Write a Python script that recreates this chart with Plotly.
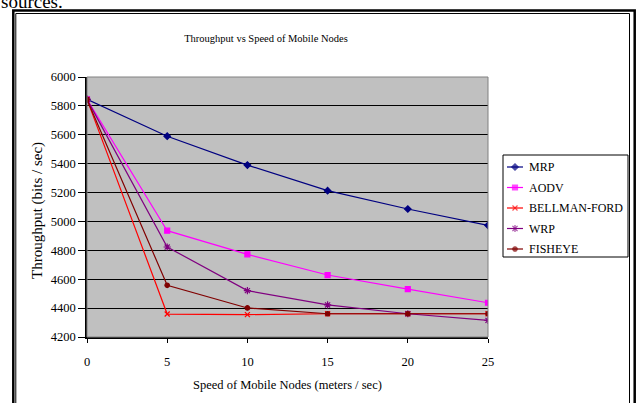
import plotly.graph_objects as go

speeds = [0, 5, 10, 15, 20, 25]
mrp = [5845, 5590, 5390, 5213, 5086, 4973]
aodv = [5845, 4936, 4772, 4629, 4532, 4437]
bellman = [5845, 4359, 4355, 4361, 4361, 4361]
wrp = [5845, 4823, 4521, 4422, 4361, 4315]
fisheye = [5845, 4558, 4401, 4361, 4361, 4361]

series_names = ["MRP", "AODV", "BELLMAN-FORD", "WRP", "FISHEYE"]
series_values = [mrp, aodv, bellman, wrp, fisheye]
colors = ["#000080", "#FF00FF", "#FF0000", "#800080", "#800000"]
symbols = ["diamond", "square", "x-thin-open", "asterisk-open", "circle"]
msizes = [5, 5, 5, 6, 4.5]

y_ticks = [4200, 4400, 4600, 4800, 5000, 5200, 5400, 5600, 5800, 6000]
x_ticks = [0, 5, 10, 15, 20, 25]

W, H = 638, 403
L, R, T, B = 87, 488, 77, 337          # plot area in pixels
LG_L, LG_R, LG_T, LG_B = 503, 628, 155, 257  # legend box in pixels
FONT = "Liberation Serif, Times New Roman, serif"


def px(x):
    return x / W


def py(y):
    return 1 - y / H


fig = go.Figure()
for name, vals, c, s, ms in zip(series_names, series_values, colors, symbols, msizes):
    fig.add_trace(go.Scatter(
        x=speeds, y=vals, name=name, mode="lines+markers", showlegend=False,
        line=dict(color=c, width=1.2),
        marker=dict(symbol=s, size=ms, color=c, line=dict(color=c, width=1.2)),
    ))

# custom legend drawn on an overlay axis (units: pixels inside the legend box)
annotations = []
for i, (name, c, s, ms) in enumerate(zip(series_names, colors, symbols, msizes)):
    row = 12 + 20.5 * i
    fig.add_trace(go.Scatter(
        x=[4, 12, 20], y=[row, row, row], mode="lines+markers", showlegend=False,
        xaxis="x2", yaxis="y2", hoverinfo="skip",
        line=dict(color=c, width=1.2),
        marker=dict(symbol=s, size=[0, ms, 0], color=c, line=dict(color=c, width=1.2)),
    ))
    annotations.append(dict(text=name, xref="x2", yref="y2", x=24, y=row, xanchor="left",
                            yanchor="middle", showarrow=False,
                            font=dict(family=FONT, size=12, color="black")))

shapes = [
    dict(type="rect", xref="paper", yref="paper", x0=px(L), x1=px(R), y0=py(B), y1=py(T),
         line=dict(color="#808080", width=1), layer="above"),
    dict(type="rect", xref="paper", yref="paper", x0=px(LG_L), x1=px(LG_R), y0=py(LG_B), y1=py(LG_T),
         line=dict(color="black", width=1), fillcolor="white", layer="below"),
    dict(type="rect", xref="paper", yref="paper", x0=px(13.3), x1=px(634.7), y0=py(410), y1=py(10.5),
         line=dict(color="black", width=2.5)),
    dict(type="rect", xref="paper", yref="paper", x0=px(15.8), x1=px(629.5), y0=py(410), y1=py(13.5),
         line=dict(color="black", width=1)),
]

annotations += [
    dict(text="sources.", xref="paper", yref="paper", x=px(-1), y=py(14.5), xanchor="left", yanchor="bottom",
         showarrow=False, font=dict(family=FONT, size=19, color="black")),
    dict(text="Speed of Mobile Nodes (meters / sec)", xref="paper", yref="paper", x=px(287), y=py(385),
         xanchor="center", yanchor="middle", showarrow=False, font=dict(family=FONT, size=12.5, color="black")),
    dict(text="Throughput (bits / sec)", xref="paper", yref="paper", x=px(38), y=py(211),
         xanchor="center", yanchor="middle", textangle=-90, showarrow=False,
         font=dict(family=FONT, size=15, color="black")),
]

fig.update_layout(
    width=W, height=H,
    margin=dict(l=0, r=0, t=0, b=0, autoexpand=False),
    paper_bgcolor="white", plot_bgcolor="#C0C0C0",
    font=dict(family=FONT, size=12, color="black"),
    title=dict(text="Throughput vs Speed of Mobile Nodes", xref="container", yref="container",
               x=266 / W, y=1 - 38 / H, xanchor="center", yanchor="middle",
               font=dict(family=FONT, size=10.5, color="black")),
    shapes=shapes, annotations=annotations,
    xaxis=dict(domain=[px(L), px(R)], range=[0, 25], tickvals=x_ticks, ticks="outside", ticklen=4,
               tickcolor="black", showline=True, linecolor="black", linewidth=1.5, showgrid=False,
               zeroline=False, ticklabelstandoff=8, tickfont=dict(family=FONT, size=12.5)),
    yaxis=dict(domain=[py(B), py(T)], range=[4200, 6000], tickvals=y_ticks, ticks="outside", ticklen=7,
               tickcolor="black", showline=True, linecolor="black", linewidth=1.5, showgrid=True,
               gridcolor="black", gridwidth=1, zeroline=False, tickfont=dict(family=FONT, size=12.5)),
    xaxis2=dict(domain=[px(LG_L), px(LG_R)], range=[0, LG_R - LG_L], visible=False, fixedrange=True,
                anchor="y2"),
    yaxis2=dict(domain=[py(LG_B), py(LG_T)], range=[LG_B - LG_T, 0], visible=False, fixedrange=True,
                anchor="x2"),
)

fig.write_html("out.html")
